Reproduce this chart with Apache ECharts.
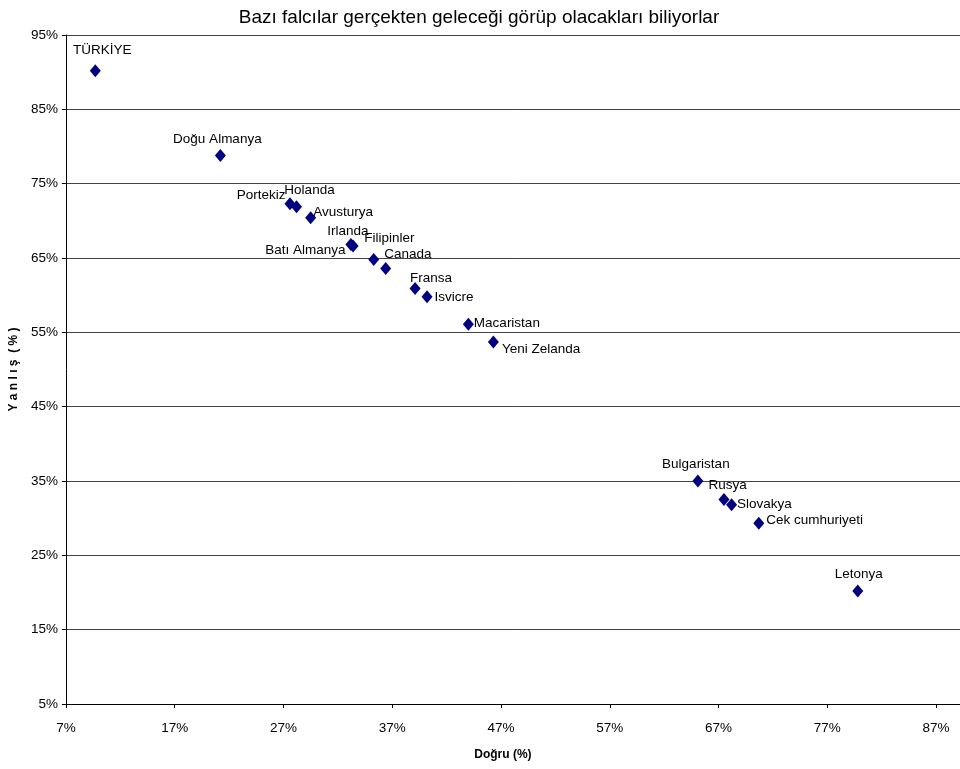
<!DOCTYPE html>
<html>
<head>
<meta charset="utf-8">
<script src="https://cdn.jsdelivr.net/npm/echarts@6/dist/echarts.min.js"></script>
<style>
  html, body { margin: 0; padding: 0; background: #fff; }
  #chart { width: 960px; height: 769px; }
</style>
</head>
<body>
<div id="chart"></div>
<script>
const countries = ["TÜRKİYE", "Doğu Almanya", "Portekiz", "Holanda", "Avusturya", "Irlanda", "Batı Almanya",
  "Filipinler", "Canada", "Fransa", "Isvicre", "Macaristan", "Yeni Zelanda",
  "Bulgaristan", "Rusya", "Slovakya", "Cek cumhuriyeti", "Letonya"]
const dogru = [9.7, 21.2, 27.6, 28.2, 29.5, 33.2, 33.4, 35.3, 36.4, 39.1, 40.2, 44.0, 46.3, 65.1, 67.5, 68.2, 70.7, 79.8]
const yanlis = [90.2, 78.8, 72.3, 71.9, 70.4, 66.8, 66.6, 64.8, 63.6, 60.9, 59.8, 56.1, 53.7, 35.0, 32.5, 31.8, 29.3, 20.2]

// label placement per country
const labelPos = {
  "TÜRKİYE": { position: "top", offset: [7, -4] },
  "Doğu Almanya": { position: "top", offset: [-3, 0] },
  "Portekiz": { position: "left", offset: [4, -8] },
  "Holanda": { position: "top", offset: [13, 0] },
  "Avusturya": { position: "right", offset: [-6, -6] },
  "Irlanda": { position: "top", offset: [-3, 3] },
  "Batı Almanya": { position: "left", offset: [1, 4] },
  "Filipinler": { position: "right", offset: [-18, -21] },
  "Canada": { position: "right", offset: [-10, -14] },
  "Fransa": { position: "top", offset: [16, 6] },
  "Isvicre": { position: "right", offset: [-1, 1] },
  "Macaristan": { position: "right", offset: [-3, -1] },
  "Yeni Zelanda": { position: "right", offset: [0, 7] },
  "Bulgaristan": { position: "top", offset: [-2, 0] },
  "Rusya": { position: "right", offset: [-24, -14] },
  "Slovakya": { position: "right", offset: [-3, -1] },
  "Cek cumhuriyeti": { position: "right", offset: [-1, -3] },
  "Letonya": { position: "top", offset: [1, 0] }
}

const points = countries.map((c, i) => ({
  name: c,
  value: [dogru[i], yanlis[i]],
  label: labelPos[c]
}))

const myChart = echarts.init(document.getElementById("chart"))

myChart.setOption({
  animation: false,
  textStyle: { fontFamily: "Liberation Sans, Arial, sans-serif" },
  title: {
    text: "Bazı falcılar gerçekten geleceği görüp olacakları biliyorlar",
    left: 474,
    top: 3,
    textAlign: "center",
    textStyle: { fontSize: 19, fontWeight: "normal", color: "#000", fontFamily: "Liberation Sans" }
  },
  grid: { left: 64, top: 35, right: 0, bottom: 65 },
  xAxis: {
    type: "value",
    min: 7,
    max: 89.2,
    interval: 10,
    name: "Doğru (%)",
    nameLocation: "middle",
    nameGap: 45,
    nameTextStyle: { fontSize: 12, fontWeight: "bold", color: "#000", padding: [0, 20, 0, 0] },
    axisLine: { show: true, lineStyle: { color: "#000", width: 1 } },
    axisTick: { show: true, length: 4, lineStyle: { color: "#000" } },
    axisLabel: {
      showMaxLabel: false,
      margin: 17,
      fontSize: 13.5,
      color: "#000",
      formatter: v => v + "%"
    },
    splitLine: { show: false }
  },
  yAxis: {
    type: "value",
    min: 5,
    max: 95,
    interval: 10,
    name: "Y a n l ı ş  ( % )",
    nameLocation: "middle",
    nameGap: 40,
    nameTextStyle: { fontSize: 12, fontWeight: "bold", color: "#000" },
    axisLine: { show: true, lineStyle: { color: "#000", width: 1 } },
    axisTick: { show: true, length: 4, lineStyle: { color: "#000" } },
    axisLabel: {
      margin: 8,
      fontSize: 13.5,
      color: "#000",
      formatter: v => v + "%"
    },
    splitLine: { show: true, lineStyle: { color: "#444", width: 1 } }
  },
  series: [
    {
      type: "scatter",
      symbol: "diamond",
      symbolSize: [11, 13],
      itemStyle: { color: "#000080", opacity: 1 },
      label: {
        show: true,
        formatter: "{b}",
        fontSize: 13.5,
        color: "#000",
        distance: 3
      },
      data: points
    }
  ]
})
</script>
</body>
</html>
